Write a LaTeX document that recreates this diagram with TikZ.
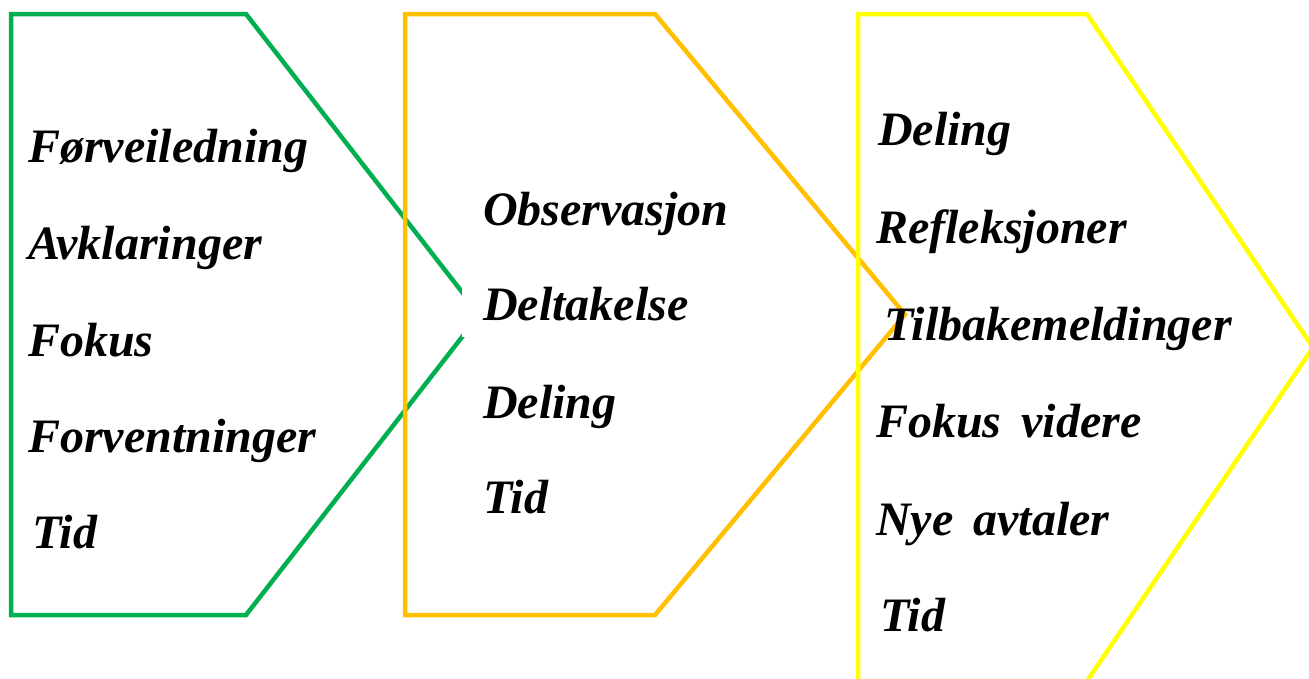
\documentclass[tikz,border=0pt]{standalone}
\usepackage{fontspec}
\setmainfont{Liberation Serif}
\definecolor{cgreen}{HTML}{00B050}
\definecolor{corange}{HTML}{FFC000}
\definecolor{cyellow}{HTML}{FFFF00}
\begin{document}
\begin{tikzpicture}[x=1pt,y=-1pt,
  outline/.style={line width=4.5pt, line join=miter},
  lbl/.style={anchor=base west, inner sep=0pt, font=\fontsize{48}{58}\selectfont\bfseries\itshape},
  cover/.style={lbl, fill=white, inner xsep=21pt, inner ysep=5pt, text height=36pt, text depth=12pt}]
\useasboundingbox (0,0) rectangle (1309,678);
\clip (0,0) rectangle (1309,678);
\fill[white] (0,0) rectangle (1309,678);
% green chevron
\draw[outline, cgreen] (11,14) -- (246,14) -- (479.5,314.5) -- (246,615) -- (11,615) -- cycle;
% orange texts (white boxes hide the green tip)
\node[cover] (o1) at (462,225) {Observasjon};
\node[cover] (o2) at (462,320) {Deltakelse};
\node[cover] (o3) at (462,418) {Deling};
\node[cover] (o4) at (462,513) {Tid};
% orange chevron
\draw[outline, corange] (405,14) -- (655,14) -- (905,314.5) -- (655,615) -- (405,615) -- cycle;
% yellow chevron
\draw[outline, cyellow] (858,14) -- (1087,14) -- (1313,347.5) -- (1087,681) -- (858,681) -- cycle;
% green texts
\node[lbl] (g1) at (28,162) {Førveiledning};
\node[lbl] (g2) at (28,259) {Avklaringer};
\node[lbl] (g3) at (28,356) {Fokus};
\node[lbl] (g4) at (28,452) {Forventninger};
\node[lbl] (g5) at (32,548) {Tid};
% yellow texts
\node[lbl] (y1) at (878,145) {Deling};
\node[lbl] (y2) at (876,243) {Refleksjoner};
\node[lbl] (y3) at (884,340) {Tilbakemeldinger};
\node[lbl] (y4) at (876,437) {Fokus\hspace{8pt} videre};
\node[lbl] (y5) at (876,535) {Nye\hspace{8pt} avtaler};
\node[lbl] (y6) at (880,631) {Tid};
\end{tikzpicture}
\end{document}
